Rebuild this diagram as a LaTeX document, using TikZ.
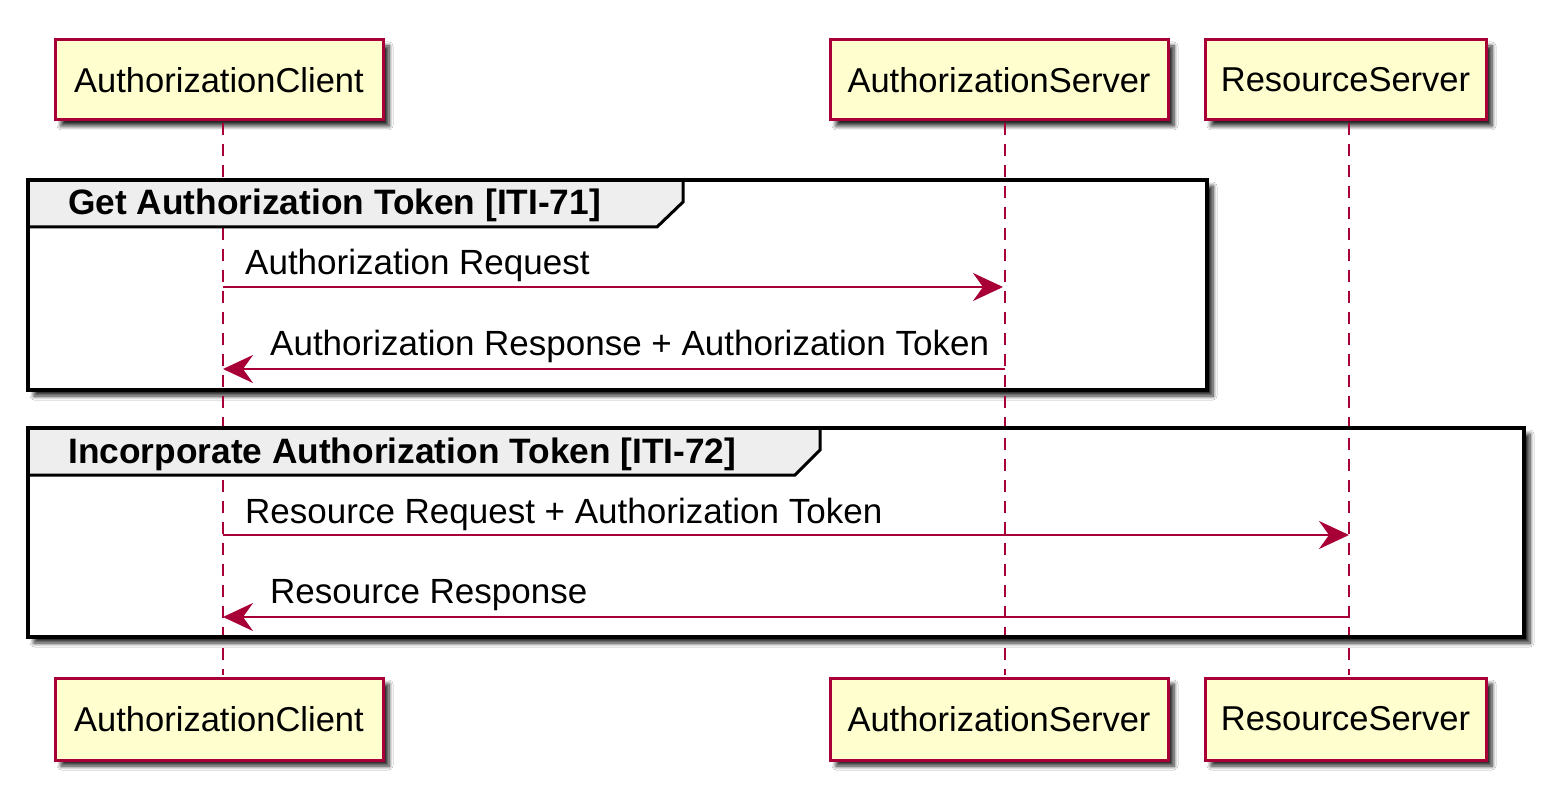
\documentclass[tikz,border=0pt]{standalone}
\usepackage{fontspec}
\setmainfont{Liberation Sans}
\usetikzlibrary{arrows.meta,shadows.blur,calc}
\definecolor{puml}{HTML}{A80036}
\definecolor{pfill}{HTML}{FEFECE}
\definecolor{gfill}{HTML}{EEEEEE}
\begin{document}
\begin{tikzpicture}[x=1pt,y=-1pt,
  shd/.style={blur shadow={shadow xshift=6pt, shadow yshift=-6pt, shadow blur steps=8, shadow blur radius=4pt, shadow opacity=85}},
  part/.style={draw=puml, line width=3pt, fill=pfill, minimum height=80pt, inner sep=0pt,
    font=\fontsize{34.5}{40}\selectfont, shd},
  life/.style={draw=puml, line width=2.5pt, dash pattern=on 12pt off 9pt},
  msg/.style={draw=puml, line width=2.5pt, -{Stealth[length=30pt,width=28pt,inset=10pt]}},
  lbl/.style={anchor=base west, inner sep=0pt, font=\fontsize{35}{40}\selectfont},
  gttl/.style={anchor=base west, inner sep=0pt, font=\fontsize{35.3}{40}\selectfont\bfseries},
  gbox/.style={draw=black, line width=4.5pt},
  ghead/.style={draw=black, line width=3pt, fill=gfill},
]
\useasboundingbox (0,0) rectangle (1554,786);
\fill[white] (0,0) rectangle (1554,786);

% group bodies (with shadow)
\path[fill=white, shd] (28,180) rectangle (1207,390);
\path[fill=white, shd] (28,428) rectangle (1524,637);

% participants
\node[part, minimum width=328pt] (acT) at (219,80) {AuthorizationClient};
\node[part, minimum width=338pt] (asT) at (999,80) {AuthorizationServer};
\node[part, minimum width=281pt] (rsT) at (1345.5,80) {ResourceServer};
\node[part, minimum width=328pt, minimum height=82pt] (acB) at (219,719) {AuthorizationClient};
\node[part, minimum width=338pt, minimum height=82pt] (asB) at (999,719) {AuthorizationServer};
\node[part, minimum width=281pt, minimum height=82pt] (rsB) at (1345.5,719) {ResourceServer};

% lifelines
\draw[life] ($(acT.south)+(4,1.5)$) -- ($(acB.north)+(4,-1.5)$);
\draw[life] ($(asT.south)+(6,1.5)$) -- ($(asB.north)+(6,-1.5)$);
\draw[life] ($(rsT.south)+(3.5,1.5)$) -- ($(rsB.north)+(3.5,-1.5)$);

% group 1
\path[ghead] (28,180) -- (683,180) -- (683,202) -- (657,227) -- (28,227) -- cycle;
\draw[gbox] (28,180) rectangle (1207,390);
\node[gttl] (g1) at (68,215) {Get Authorization Token [ITI-71]};

% group 2
\path[ghead] (28,428) -- (820,428) -- (820,450) -- (795,475) -- (28,475) -- cycle;
\draw[gbox] (28,428) rectangle (1524,637);
\node[gttl] (g2) at (68,463) {Incorporate Authorization Token [ITI-72]};

% message endpoints
\coordinate (m1a) at (223,287);  \coordinate (m1b) at (1003,287);
\coordinate (m2a) at (1005,369); \coordinate (m2b) at (223,369);
\coordinate (m3a) at (223,535);  \coordinate (m3b) at (1349,535);
\coordinate (m4a) at (1349,617); \coordinate (m4b) at (223,617);

\draw[msg] (m1a) -- (m1b);
\draw[msg] (m2a) -- (m2b);
\draw[msg] (m3a) -- (m3b);
\draw[msg] (m4a) -- (m4b);

\node[lbl] (l1) at (245,274) {Authorization Request};
\node[lbl] (l2) at (270,355) {Authorization Response + Authorization Token};
\node[lbl] (l3) at (245,523) {Resource Request + Authorization Token};
\node[lbl] (l4) at (270,603) {Resource Response};
\end{tikzpicture}
\end{document}
